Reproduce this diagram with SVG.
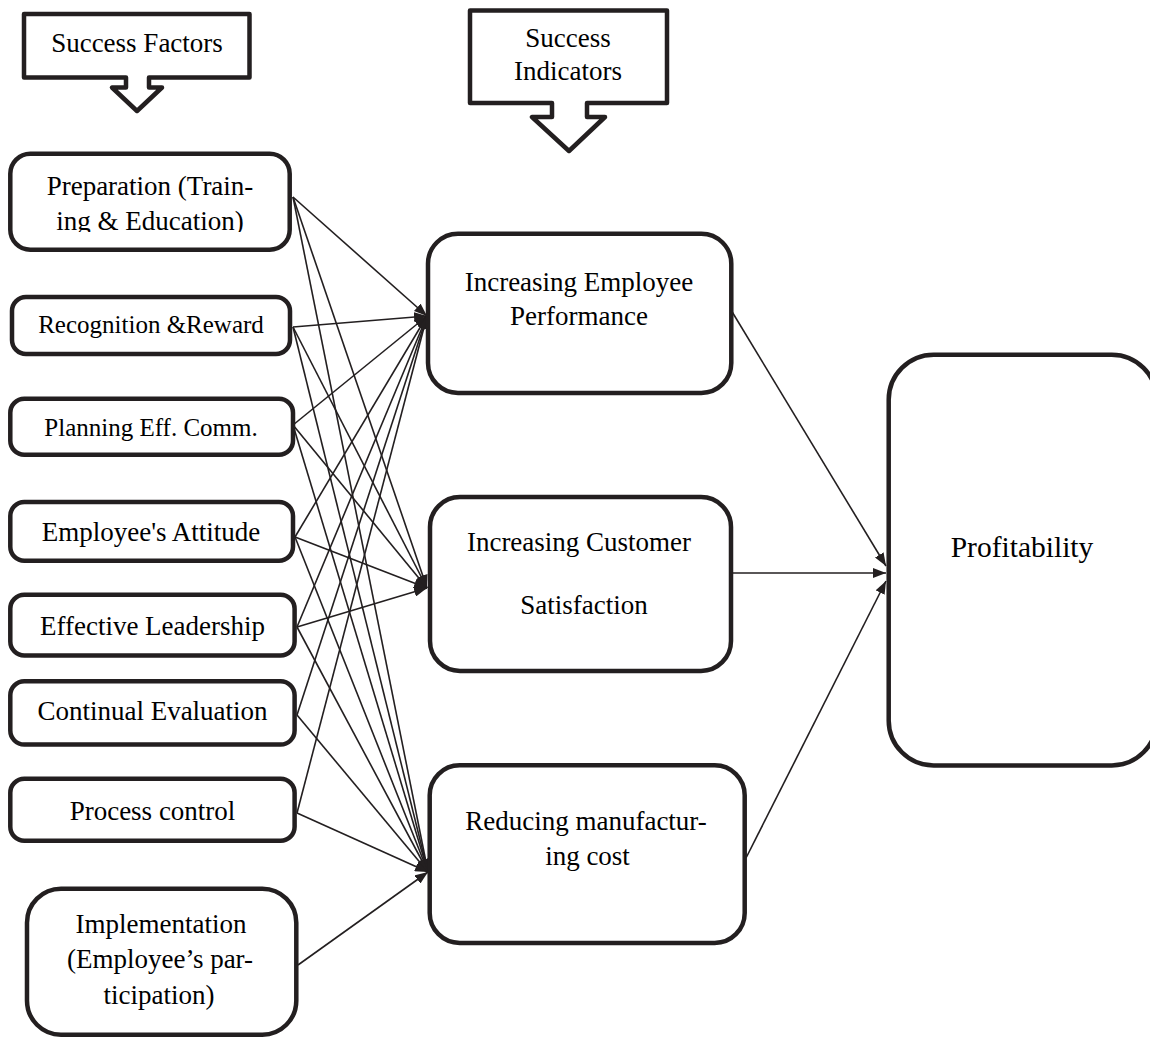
<svg xmlns="http://www.w3.org/2000/svg" width="1150" height="1037" viewBox="0 0 1150 1037">
<style>
  .box { fill: #ffffff; stroke: #231f20; stroke-width: 4.5; }
  .call { fill: #ffffff; stroke: #231f20; stroke-width: 4.5; stroke-linejoin: round; }
  .t { font-family: "Liberation Serif", "Times New Roman", serif; font-size: 27px; fill: #000000; text-anchor: middle; }
  .s { font-size: 25px; }
  .big { font-size: 29.5px; }
  .ln { stroke: #231f20; stroke-width: 1.6; fill: none; marker-end: url(#ah); }
</style>
<defs>
  <marker id="ah" markerUnits="userSpaceOnUse" markerWidth="13" markerHeight="10" refX="13" refY="5" orient="auto">
    <path d="M0,0 L13,5 L0,10 Z" fill="#231f20"/>
  </marker>
  <clipPath id="clip1">
    <rect x="10" y="154" width="280" height="78"/>
  </clipPath>
</defs>
<rect width="1150" height="1037" fill="#ffffff"/>

<g id="connectors">
  <line class="ln" x1="293" y1="197" x2="427" y2="316"/>
  <line class="ln" x1="293" y1="197" x2="427" y2="588"/>
  <line class="ln" x1="293" y1="197" x2="428" y2="872"/>
  <line class="ln" x1="293" y1="327" x2="427" y2="316"/>
  <line class="ln" x1="293" y1="327" x2="427" y2="588"/>
  <line class="ln" x1="293" y1="327" x2="428" y2="872"/>
  <line class="ln" x1="293" y1="425" x2="427" y2="316"/>
  <line class="ln" x1="293" y1="425" x2="427" y2="588"/>
  <line class="ln" x1="293" y1="425" x2="428" y2="872"/>
  <line class="ln" x1="295" y1="537" x2="427" y2="316"/>
  <line class="ln" x1="295" y1="537" x2="427" y2="588"/>
  <line class="ln" x1="295" y1="537" x2="428" y2="872"/>
  <line class="ln" x1="297" y1="627" x2="427" y2="316"/>
  <line class="ln" x1="297" y1="627" x2="427" y2="588"/>
  <line class="ln" x1="297" y1="627" x2="428" y2="872"/>
  <line class="ln" x1="297" y1="715" x2="427" y2="316"/>
  <line class="ln" x1="297" y1="715" x2="428" y2="872"/>
  <line class="ln" x1="297" y1="813" x2="427" y2="316"/>
  <line class="ln" x1="297" y1="813" x2="428" y2="872"/>
  <line class="ln" x1="298" y1="965" x2="428" y2="872"/>
  <line class="ln" x1="731" y1="310" x2="886" y2="566"/>
  <line class="ln" x1="731" y1="573" x2="886" y2="573"/>
  <line class="ln" x1="746" y1="858" x2="886" y2="581"/>
</g>

<g id="callout-factors">
  <path class="call" d="M24,14 H249.5 V77.5 H149 V87.5 H162 L137,111 L112,87.5 H126 V77.5 H24 Z"/>
  <text class="t" x="137" y="52">Success Factors</text>
</g>
<g id="callout-indicators">
  <path class="call" d="M470,10.5 H667 V103 H587 V117 H605 L569,151 L532,117 H552 V103 H470 Z"/>
  <text class="t" x="568" y="47">Success</text>
  <text class="t" x="568" y="80">Indicators</text>
</g>

<g id="n-preparation">
  <rect class="box" x="10.3" y="153.7" width="279.4" height="96" rx="20"/>
  <text class="t" x="150" y="195">Preparation (Train-</text>
  <text class="t" x="150" y="230" clip-path="url(#clip1)">ing &amp; Education)</text>
</g>
<g id="n-recognition">
  <rect class="box" x="12" y="297" width="278" height="57" rx="14"/>
  <text class="t s" x="151" y="333">Recognition &amp;Reward</text>
</g>
<g id="n-planning">
  <rect class="box" x="10.3" y="398.7" width="282.7" height="56" rx="14"/>
  <text class="t s" x="151" y="436">Planning Eff. Comm.</text>
</g>
<g id="n-attitude">
  <rect class="box" x="10.3" y="502" width="282.7" height="58.7" rx="14"/>
  <text class="t" x="151" y="541">Employee's Attitude</text>
</g>
<g id="n-leadership">
  <rect class="box" x="10.3" y="594.7" width="284.3" height="60.7" rx="14"/>
  <text class="t" x="152.5" y="635">Effective Leadership</text>
</g>
<g id="n-evaluation">
  <rect class="box" x="10.3" y="681.3" width="284.3" height="63.3" rx="14"/>
  <text class="t" x="152.5" y="720">Continual Evaluation</text>
</g>
<g id="n-process">
  <rect class="box" x="10.3" y="778.7" width="284.3" height="62" rx="14"/>
  <text class="t" x="152.5" y="820">Process control</text>
</g>
<g id="n-implementation">
  <rect class="box" x="27" y="888.7" width="269.3" height="146" rx="34"/>
  <text class="t" x="161" y="933">Implementation</text>
  <text class="t" x="160" y="968">(Employee’s par-</text>
  <text class="t" x="159" y="1004">ticipation)</text>
</g>

<g id="n-performance">
  <rect class="box" x="428" y="233.7" width="303.3" height="159.3" rx="30"/>
  <text class="t" x="579" y="291">Increasing Employee</text>
  <text class="t" x="579" y="325">Performance</text>
</g>
<g id="n-satisfaction">
  <rect class="box" x="430" y="497" width="301" height="174" rx="30"/>
  <text class="t" x="579" y="551">Increasing Customer</text>
  <text class="t" x="584" y="614">Satisfaction</text>
</g>
<g id="n-cost">
  <rect class="box" x="429.7" y="765.3" width="315" height="177.7" rx="30"/>
  <text class="t" x="586" y="830">Reducing manufactur-</text>
  <text class="t" x="587.5" y="865">ing cost</text>
</g>
<g id="n-profitability">
  <rect class="box" x="888.7" y="354.7" width="268" height="410.7" rx="45"/>
  <text class="t big" x="1022" y="557">Profitability</text>
</g>
</svg>
